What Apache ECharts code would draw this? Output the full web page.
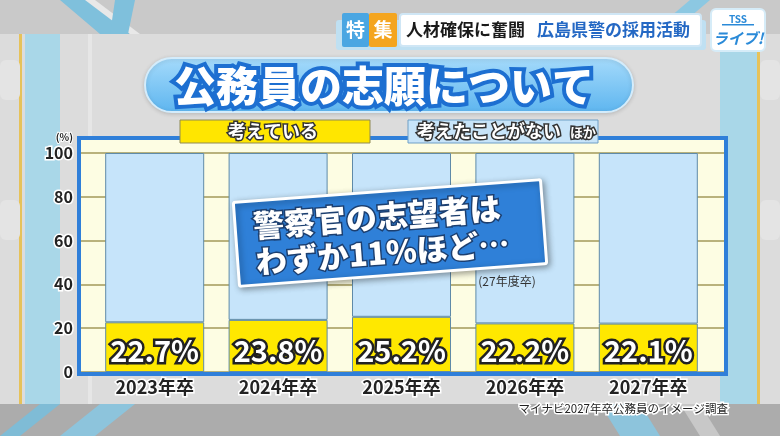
<!DOCTYPE html>
<html>
<head>
<meta charset="utf-8">
<script src="https://cdn.jsdelivr.net/npm/echarts@6/dist/echarts.min.js"></script>
<style>html,body{margin:0;padding:0;background:#d9d9d9;}#main{width:780px;height:436px;}</style>
</head>
<body>
<div id="main"></div>
<script>
const categories = ['2023年卒', '2024年卒', '2025年卒', '2026年卒', '2027年卒'];
const thinkingValues = [22.7, 23.8, 25.2, 22.2, 22.1];
const otherValues = [77.3, 76.2, 74.8, 77.8, 77.9];
const yTicks = [0, 20, 40, 60, 80, 100];
const legendNames = ['考えている', '考えたことがない'];
const titleText = '公務員の志願について';
const calloutLines = ['警察官の志望者は', 'わずか11%ほど…'];
const calloutNote = '(27年度卒)';
const sourceText = 'マイナビ2027年卒公務員のイメージ調査';

const FONT = '"Noto Sans CJK JP", "Noto Sans", sans-serif';
const chart = echarts.init(document.getElementById('main'), null, {renderer: 'canvas'});

// outlined text: stroke layer underneath, fill layer on top
function outlined(z, st, fill, stroke, lw) {
  const under = {type: 'text', z: z, silent: true, style: Object.assign({}, st, {fill: stroke, stroke: stroke, lineWidth: lw, lineJoin: 'round'})};
  const over = {type: 'text', z: z + 1, silent: true, style: Object.assign({}, st, {fill: fill})};
  return [under, over];
}

const bg = [
  {type: 'rect', z: -20, shape: {x: 0, y: 0, width: 780, height: 436}, style: {fill: '#dcdcdc'}},
  {type: 'rect', z: -19, shape: {x: 0, y: 0, width: 780, height: 34}, style: {fill: '#c9c9c9'}},
  {type: 'rect', z: -19, shape: {x: 0, y: 404, width: 780, height: 32}, style: {fill: '#acacac'}},
  {type: 'rect', z: -18, shape: {x: 25, y: 34, width: 35, height: 370}, style: {fill: '#a9d7e8'}},
  {type: 'rect', z: -18, shape: {x: 19, y: 34, width: 3, height: 370}, style: {fill: '#e6c25a'}},
  {type: 'rect', z: -18, shape: {x: 720, y: 34, width: 37, height: 370}, style: {fill: '#a9d7e8'}},
  {type: 'rect', z: -18, shape: {x: 757, y: 34, width: 3, height: 370}, style: {fill: '#e6c25a'}},
  {type: 'rect', z: -18, shape: {x: 88, y: 34, width: 4, height: 370}, style: {fill: '#e6e6e6'}},
  {type: 'polygon', z: -18, shape: {points: [[60, 0], [90, 0], [130, 34], [100, 34]]}, style: {fill: '#7fc0dc'}},
  {type: 'polygon', z: -18, shape: {points: [[85, 0], [95, 0], [140, 34], [130, 34]]}, style: {fill: '#e8e8e8'}},
  {type: 'polygon', z: -18, shape: {points: [[115, 0], [135, 0], [128, 34], [110, 34]]}, style: {fill: '#7fc0dc'}},
  {type: 'polygon', z: -18, shape: {points: [[690, 0], [710, 0], [670, 34], [650, 34]]}, style: {fill: '#8cc8e2'}},
  {type: 'polygon', z: -18, shape: {points: [[40, 404], [60, 404], [20, 436], [0, 436]]}, style: {fill: '#7fbcd6'}},
  {type: 'polygon', z: -18, shape: {points: [[100, 404], [135, 404], [95, 436], [60, 436]]}, style: {fill: '#8dc4dc'}},
  {type: 'polygon', z: -18, shape: {points: [[600, 404], [640, 404], [660, 436], [620, 436]]}, style: {fill: '#8dc4dc'}},
  {type: 'polygon', z: -18, shape: {points: [[680, 404], [700, 404], [720, 436], [700, 436]]}, style: {fill: '#c8c8c8'}},
  {type: 'rect', z: -17, shape: {x: 0, y: 60, width: 20, height: 40, r: 6}, style: {fill: '#e4e4e4'}},
  {type: 'rect', z: -17, shape: {x: 0, y: 200, width: 20, height: 40, r: 6}, style: {fill: '#e4e4e4'}},
  {type: 'rect', z: -17, shape: {x: 760, y: 60, width: 20, height: 40, r: 6}, style: {fill: '#e4e4e4'}},
  {type: 'rect', z: -17, shape: {x: 760, y: 200, width: 20, height: 40, r: 6}, style: {fill: '#e4e4e4'}},
  {type: 'circle', z: -17, shape: {cx: 618, cy: 84, r: 14}, style: {fill: '#7cc4f2'}},

  // top banner
  {type: 'rect', z: 20, shape: {x: 336, y: 20, width: 370, height: 30, r: 3}, style: {fill: '#bfe0f2'}},
  {type: 'rect', z: 21, shape: {x: 342, y: 13, width: 27, height: 34, r: 2}, style: {fill: '#4aa6e2'}},
  {type: 'text', z: 22, style: {x: 355.5, y: 30, text: '特', fill: '#fff', font: 'bold 19px ' + FONT, align: 'center', verticalAlign: 'middle'}},
  {type: 'rect', z: 21, shape: {x: 369, y: 13, width: 28, height: 34, r: 2}, style: {fill: '#f4a51f'}},
  {type: 'text', z: 22, style: {x: 383, y: 30, text: '集', fill: '#fff', font: 'bold 19px ' + FONT, align: 'center', verticalAlign: 'middle'}},
  {type: 'rect', z: 21, shape: {x: 400, y: 14, width: 301, height: 32, r: 3}, style: {fill: '#ffffff', stroke: '#cfe6f5', lineWidth: 2}},
  {type: 'text', z: 22, style: {x: 406, y: 30, text: '人材確保に奮闘', fill: '#1a1a1a', font: 'bold 17px ' + FONT, align: 'left', verticalAlign: 'middle'}},
  {type: 'text', z: 22, style: {x: 537, y: 30, text: '広島県警の採用活動', fill: '#2468c4', font: 'bold 17px ' + FONT, align: 'left', verticalAlign: 'middle'}},
  {type: 'rect', z: 21, shape: {x: 711, y: 9, width: 54, height: 42, r: 5}, style: {fill: '#ffffff', stroke: '#d6ecf8', lineWidth: 2}},
  {type: 'text', z: 22, style: {x: 738, y: 19, text: 'TSS', fill: '#2a8ad8', font: 'bold 10px ' + FONT, align: 'center', verticalAlign: 'middle'}},
  {type: 'rect', z: 22, shape: {x: 722, y: 24, width: 32, height: 1.5}, style: {fill: '#2a8ad8'}},
  {type: 'text', z: 22, style: {x: 738, y: 38, text: 'ライブ!', fill: '#2a8ad8', font: 'italic bold 15px ' + FONT, align: 'center', verticalAlign: 'middle'}},

  // title pill
  {type: 'rect', z: 20, shape: {x: 145, y: 58, width: 488, height: 54, r: 27},
    style: {fill: new echarts.graphic.LinearGradient(0, 0, 0, 1, [{offset: 0, color: '#a6dbfb'}, {offset: 1, color: '#5db5ef'}]),
      stroke: '#d4ecfb', lineWidth: 2, shadowBlur: 4, shadowColor: 'rgba(0,0,0,0.15)', shadowOffsetY: 1}},
  ...outlined(21, {x: 384, y: 86, text: titleText, font: '900 42px ' + FONT, align: 'center', verticalAlign: 'middle'}, '#ffffff', '#1d6fd1', 8),

  // chart frame fill (behind series) and stroke (on top)
  {type: 'rect', z: -5, shape: {x: 79, y: 138, width: 647, height: 236}, style: {fill: '#fdfde3'}},
  {type: 'rect', z: 10, shape: {x: 79, y: 138, width: 647, height: 236}, style: {fill: 'none', stroke: '#2f7fd9', lineWidth: 4}},

  // legend boxes
  {type: 'rect', z: 12, shape: {x: 180, y: 120, width: 190, height: 23}, style: {fill: '#ffe600', stroke: '#8f8a55', lineWidth: 1}},
  ...outlined(13, {x: 273, y: 131.5, text: legendNames[0], font: 'bold 18px ' + FONT, align: 'center', verticalAlign: 'middle'}, '#ffffff', '#333333', 3),
  {type: 'rect', z: 12, shape: {x: 408, y: 120, width: 190, height: 23}, style: {fill: '#c7e4f9', stroke: '#6f9fc6', lineWidth: 1}},
  ...outlined(13, {x: 489, y: 131.5, text: legendNames[1], font: 'bold 18px ' + FONT, align: 'center', verticalAlign: 'middle'}, '#ffffff', '#333333', 3),
  ...outlined(13, {x: 583, y: 132, text: 'ほか', font: 'bold 13px ' + FONT, align: 'center', verticalAlign: 'middle'}, '#ffffff', '#333333', 3),

  // callout
  {type: 'group', z: 30, x: 390, y: 233, rotation: 0.074, children: [
    {type: 'rect', z: 30, shape: {x: -154, y: -42, width: 308, height: 84, r: 2},
      style: {fill: '#2f80d8', stroke: '#ffffff', lineWidth: 3, shadowBlur: 6, shadowColor: 'rgba(0,0,0,0.35)', shadowOffsetX: 2, shadowOffsetY: 2}},
    ...outlined(31, {x: -136, y: -17, text: calloutLines[0], font: '900 31px ' + FONT, align: 'left', verticalAlign: 'middle'}, '#ffffff', '#1c3f70', 3),
    ...outlined(31, {x: -136, y: 19, text: calloutLines[1], font: '900 31px ' + FONT, align: 'left', verticalAlign: 'middle'}, '#ffffff', '#1c3f70', 3)
  ]},
  {type: 'text', z: 30, style: {x: 507, y: 281, text: calloutNote, fill: '#333', font: '12px ' + FONT, align: 'center', verticalAlign: 'middle'}},

  // source
  ...outlined(12, {x: 728, y: 409, text: sourceText, font: '11.5px ' + FONT, align: 'right', verticalAlign: 'middle'}, '#222222', '#ffffff', 3)
];

const option = {
  animation: false,
  backgroundColor: 'transparent',
  textStyle: {fontFamily: FONT},
  graphic: bg,
  grid: [
    {left: 81, right: 56, top: 153, bottom: 64},
    {left: 93, right: 70, top: 153, bottom: 64}
  ],
  xAxis: [
    {type: 'value', gridIndex: 0, min: 0, max: 1, show: false},
    {type: 'category', gridIndex: 1, data: categories,
      axisLine: {show: false}, axisTick: {show: false},
      axisLabel: {margin: 6, color: '#222', fontSize: 18, fontWeight: 'bold', fontFamily: FONT,
        textBorderColor: '#ffffff', textBorderWidth: 3}}
  ],
  yAxis: [
    {type: 'value', gridIndex: 0, min: 0, max: 100, interval: 20,
      name: '(%)', nameLocation: 'end', nameGap: 9,
      nameTextStyle: {align: 'right', padding: [0, 8, 0, 0], fontSize: 10, color: '#222', fontWeight: 'bold',
        textBorderColor: '#fff', textBorderWidth: 2},
      axisLine: {show: false}, axisTick: {show: false},
      axisLabel: {margin: 8, color: '#222', fontSize: 16, fontWeight: 'bold', fontFamily: FONT,
        textBorderColor: '#ffffff', textBorderWidth: 3,
        formatter: v => yTicks.includes(v) ? String(v) : ''},
      splitLine: {show: true, lineStyle: {color: '#b9b27c', width: 2}}},
    {type: 'value', gridIndex: 1, min: 0, max: 100, interval: 20, show: false, splitLine: {show: false}}
  ],
  series: [
    {name: legendNames[0], type: 'bar', xAxisIndex: 1, yAxisIndex: 1, stack: 'a', barWidth: 99, z: 3,
      data: thinkingValues,
      itemStyle: {color: '#ffe800', borderColor: '#5f8aa8', borderWidth: 1},
      label: {show: true, position: 'insideBottom', distance: 7, formatter: '{c}%',
        fontSize: 29, fontWeight: 'bold', fontFamily: FONT, color: '#ffffff',
        textBorderColor: '#222222', textBorderWidth: 5}},
    {name: legendNames[1], type: 'bar', xAxisIndex: 1, yAxisIndex: 1, stack: 'a', barWidth: 99, z: 3,
      data: otherValues,
      itemStyle: {color: '#c6e4fa', borderColor: '#5f8aa8', borderWidth: 1}}
  ]
};
chart.setOption(option);
</script>
</body>
</html>
